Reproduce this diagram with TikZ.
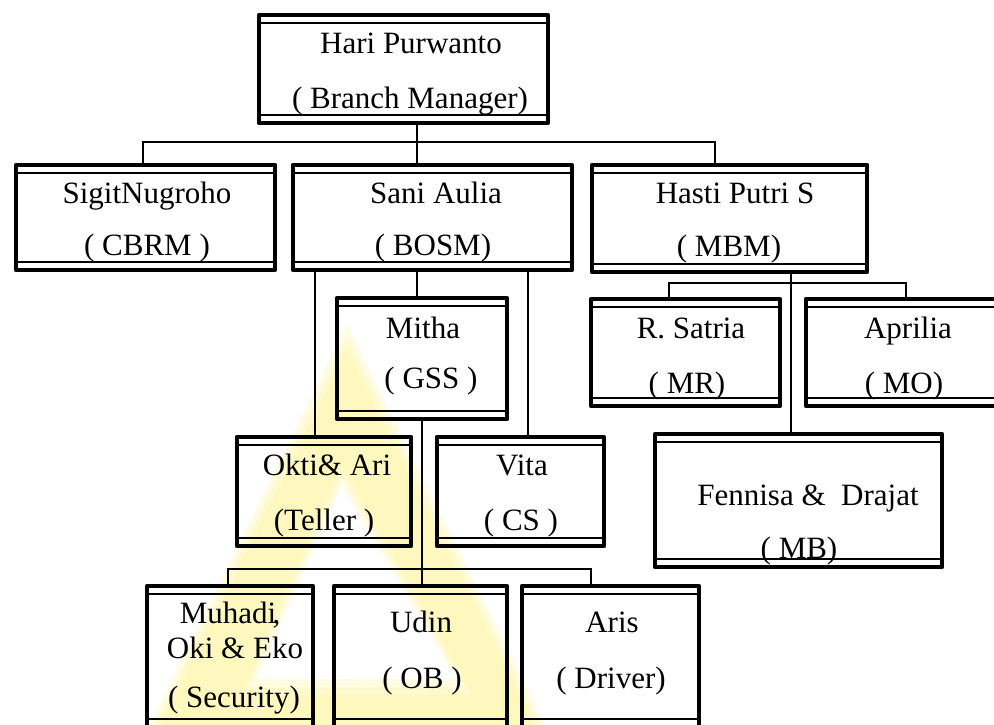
\documentclass[tikz,border=0pt]{standalone}
\usepackage{fontspec}
\setmainfont{Liberation Serif}
\definecolor{wmark}{RGB}{255,244,150}
\tikzset{
  orgbox/.style={draw, rectangle, line width=4.8pt, line join=round, inner sep=0pt, outer sep=0pt,
    path picture={\draw[line width=1.4pt]
      ([yshift=-8pt]path picture bounding box.north west) -- ([yshift=-8pt]path picture bounding box.north east)
      ([yshift=8pt]path picture bounding box.south west) -- ([yshift=8pt]path picture bounding box.south east);}},
  conn/.style={draw, line width=1.3pt},
  txt/.style={anchor=base, inner sep=0pt, font=\fontsize{31}{36}\selectfont},
  wm/.style={fill=wmark, opacity=0.28, even odd rule},
}
\newcommand\obox[5]{\node[orgbox, minimum width={(#4-#2)*1pt}, minimum height={(#5-#3)*1pt}] (#1) at ({(#2+#4)/2},{(#3+#5)/2}) {};}
\begin{document}
\begin{tikzpicture}[x=1pt,y=-1pt]
\useasboundingbox (0,0) rectangle (994,724);
\clip (0,0) rectangle (994,724);
% watermark (soft, layered)
\fill[wm] (347,325) -- (565,765) -- (130,765) -- cycle
          (342,465) -- (473,695) -- (240,695) -- cycle;
\fill[wm] (347,338) -- (555,755) -- (140,755) -- cycle
          (342,475) -- (465,687) -- (248,687) -- cycle;
\fill[wm] (347,350) -- (545,745) -- (150,745) -- cycle
          (342,485) -- (457,679) -- (256,679) -- cycle;
% boxes
\obox{hari}{259}{15}{548}{123}
\obox{sigit}{16}{165}{275}{270}
\obox{sani}{293}{165}{572}{270}
\obox{hasti}{592}{165}{867}{272}
\obox{mitha}{337}{298}{507}{419}
\obox{satria}{591}{299}{780}{406}
\obox{aprilia}{806}{299}{1010}{406}
\obox{okti}{237}{437}{411}{546}
\obox{vita}{437}{437}{604}{546}
\obox{fennisa}{655}{434}{942}{567}
\obox{muhadi}{147}{586}{313}{727}
\obox{udin}{334}{586}{507}{727}
\obox{aris}{522}{586}{699}{727}
% x positions and bus rows
\coordinate (v143) at (143,0);
\coordinate (v228) at (228,0);
\coordinate (v315) at (315,0);
\coordinate (v417) at (417,0);
\coordinate (v422) at (422,0);
\coordinate (v528) at (528,0);
\coordinate (v591) at (591,0);
\coordinate (v669) at (669,0);
\coordinate (v715) at (715,0);
\coordinate (v791) at (791,0);
\coordinate (v906) at (906,0);
\coordinate (bus1) at (0,142);
\coordinate (bus2) at (0,569);
\coordinate (bus3) at (0,283);
% connectors
\draw[conn] (v417 |- hari.south) -- (v417 |- sani.north);
\draw[conn] (v143 |- sigit.north) -- (v143 |- bus1) -- (v715 |- bus1) -- (v715 |- hasti.north);
\draw[conn] (v315 |- sani.south) -- (v315 |- okti.north);
\draw[conn] (v417 |- sani.south) -- (v417 |- mitha.north);
\draw[conn] (v528 |- sani.south) -- (v528 |- vita.north);
\draw[conn] (v422 |- mitha.south) -- (v422 |- udin.north);
\draw[conn] (v228 |- muhadi.north) -- (v228 |- bus2) -- (v591 |- bus2) -- (v591 |- aris.north);
\draw[conn] (v791 |- hasti.south) -- (v791 |- fennisa.north);
\draw[conn] (v669 |- satria.north) -- (v669 |- bus3) -- (v906 |- bus3) -- (v906 |- aprilia.north);
% texts
\node[txt] (t1) at (411,53) {Hari Purwanto};
\node[txt] (t2) at (410,108) {( Branch Manager)};
\node[txt] (t3) at (147,203) {SigitNugroho};
\node[txt] (t4) at (147,255) {( CBRM )};
\node[txt] (t5) at (436,203) {Sani Aulia};
\node[txt] (t6) at (433,255) {( BOSM)};
\node[txt] (t7) at (735,203) {Hasti Putri S};
\node[txt] (t8) at (729,256) {( MBM)};
\node[txt] (t9) at (423,338) {Mitha};
\node[txt] (t10) at (431,388) {( GSS )};
\node[txt] (t11) at (691,338) {R. Satria};
\node[txt] (t12) at (687,393) {( MR)};
\node[txt] (t13) at (908,338) {Aprilia};
\node[txt] (t14) at (904,393) {( MO)};
\node[txt] (t15) at (327,475) {Okti\& Ari};
\node[txt] (t16) at (324,530) {(Teller )};
\node[txt] (t17) at (522,475) {Vita};
\node[txt] (t18) at (521,530) {( CS )};
\node[txt] (t19) at (808,505) {Fennisa \& \ Drajat};
\node[txt] (t20) at (799,558) {( MB)};
\node[txt] (t21) at (230,623) {Muhadi\kern-0.12em,};
\node[txt] (t22) at (235,658) {Oki \& Eko};
\node[txt] (t23) at (234,707) {( Security)};
\node[txt] (t24) at (421,632) {Udin};
\node[txt] (t25) at (422,688) {( OB )};
\node[txt] (t26) at (612,632) {Aris};
\node[txt] (t27) at (611,688) {( Driver)};
\end{tikzpicture}
\end{document}
